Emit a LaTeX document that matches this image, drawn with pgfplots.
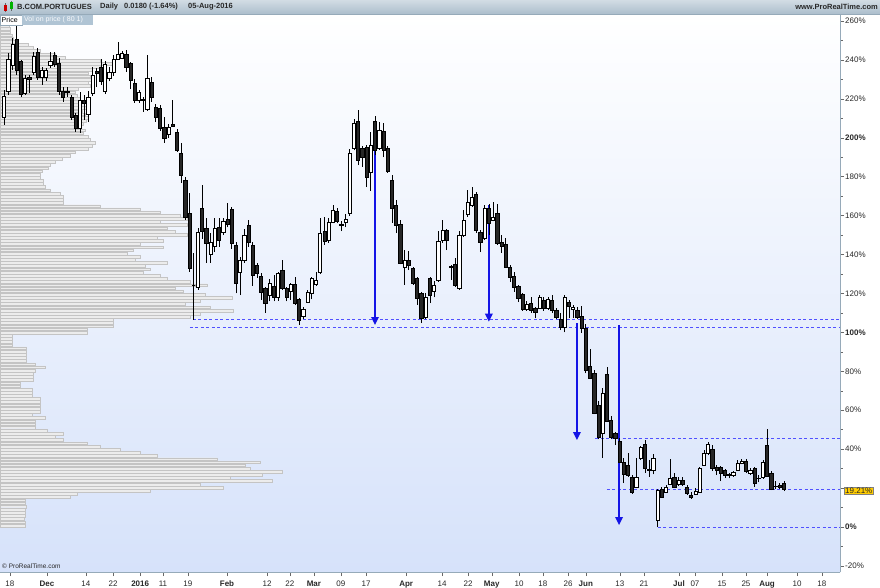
\documentclass[border=0pt]{standalone}
\usepackage{pgfplots}
\pgfplotsset{compat=1.18}
\usepackage{pgfplotstable}
\usepackage{fontspec}
\setmainfont{Liberation Sans}
\usetikzlibrary{arrows.meta}
\definecolor{hdrtop}{RGB}{210,220,228}
\definecolor{hdrbot}{RGB}{172,190,204}
\definecolor{bgbot}{RGB}{214,226,250}
\definecolor{dashc}{RGB}{80,80,255}
\definecolor{arr}{RGB}{20,20,230}
\definecolor{volfill}{RGB}{236,236,236}
\definecolor{voldraw}{RGB}{196,196,196}
\definecolor{axisc}{RGB}{150,170,185}
\definecolor{txt}{RGB}{40,40,40}
\definecolor{tagc}{RGB}{176,196,212}
\definecolor{yel}{RGB}{255,204,0}
\pgfdeclareplotmark{nothing}{}

\pgfplotstableread{
i O H L C
0 210.6 224.5 206.6 221.4
1 224.1 243.6 222.0 240.5
2 237.5 251.3 234.9 248.2
3 250.8 259.0 232.3 234.9
4 239.5 240.0 221.0 222.5
5 223.1 232.3 222.0 230.8
6 231.3 232.3 223.1 230.3
7 233.8 244.1 232.3 242.1
8 244.1 246.2 229.7 231.3
9 231.3 236.4 227.2 234.9
10 231.3 235.9 229.2 234.9
11 237.5 244.0 236.0 239.5
12 242.6 244.1 236.4 238.0
13 238.5 241.0 222.0 224.1
14 224.1 226.1 218.4 221.0
15 224.0 226.0 221.0 223.5
16 221.0 222.0 209.2 210.7
17 211.7 212.8 203.0 205.1
18 205.1 223.6 202.5 219.4
19 219.4 222.0 209.2 217.9
20 212.3 224.0 208.0 221.0
21 223.1 236.4 221.5 232.3
22 234.0 236.0 226.0 233.0
23 236.4 240.5 227.2 229.2
24 224.1 239.5 222.5 238.0
25 230.8 236.4 229.0 233.8
26 233.8 242.6 232.0 240.5
27 240.5 249.3 240.0 243.1
28 241.1 244.6 240.5 243.6
29 243.1 245.0 234.0 236.4
30 238.5 239.0 225.0 229.7
31 228.2 230.0 218.0 219.4
32 219.4 224.6 217.9 223.6
33 219.9 221.0 213.3 219.4
34 214.8 242.6 213.8 230.8
35 228.7 231.0 218.4 221.0
36 215.9 217.4 208.2 210.7
37 215.3 217.0 203.5 205.1
38 205.6 210.7 197.4 199.9
39 202.0 207.0 200.0 205.6
40 207.1 219.4 205.6 206.1
41 203.0 204.6 192.7 193.8
42 192.2 197.4 176.8 180.9
43 178.3 179.9 157.8 159.3
44 161.4 171.7 131.1 133.1
45 124.4 140.8 106.4 124.4
46 123.3 153.7 121.8 151.6
47 163.8 175.8 148.0 151.8
48 153.7 158.8 135.7 146.0
49 140.3 151.0 135.7 146.5
50 144.4 158.8 141.3 153.7
51 154.2 159.0 144.0 147.5
52 151.6 159.0 150.0 157.3
53 158.3 166.5 154.0 155.7
54 163.4 164.5 143.0 146.0
55 144.9 146.5 120.0 125.4
56 131.1 138.8 119.2 137.2
57 137.2 153.0 135.7 150.1
58 155.2 158.0 143.9 146.5
59 144.9 146.5 124.0 129.5
60 134.6 135.7 128.0 130.5
61 129.0 130.5 116.7 120.8
62 122.8 123.3 110.0 115.1
63 119.2 127.5 116.0 125.4
64 123.8 129.5 116.0 118.2
65 118.2 131.0 116.2 130.5
66 132.1 137.2 122.0 122.8
67 122.8 123.3 116.0 118.2
68 121.3 125.4 116.7 124.9
69 124.9 128.5 114.0 115.1
70 117.2 117.7 103.8 106.4
71 108.4 113.0 107.0 112.0
72 115.6 121.8 115.0 120.8
73 120.3 128.5 117.0 128.0
74 124.9 131.0 124.0 126.9
75 131.1 159.0 130.0 151.1
76 152.1 159.3 145.0 147.0
77 147.5 159.0 146.0 156.8
78 156.8 165.5 156.0 162.9
79 162.4 164.0 156.0 157.3
80 155.5 157.5 152.0 155.2
81 156.8 161.0 154.0 158.3
82 161.4 194.0 160.0 192.2
83 194.8 209.7 193.5 207.6
84 208.7 214.3 186.0 188.6
85 194.8 196.0 185.0 190.2
86 195.3 196.3 174.7 179.9
87 182.4 203.0 172.7 196.3
88 208.7 211.2 191.0 193.8
89 194.8 208.2 193.8 204.0
90 203.5 207.6 190.0 193.8
91 194.8 196.0 182.0 183.0
92 178.3 181.0 156.3 163.9
93 165.5 168.0 151.0 155.2
94 155.7 158.0 135.0 135.7
95 133.6 142.3 124.4 137.2
96 137.2 142.0 132.0 134.6
97 133.1 133.6 124.4 125.4
98 128.0 128.5 114.1 117.7
99 120.3 120.8 104.8 107.4
100 107.9 120.3 107.0 118.2
101 128.0 128.5 115.1 119.2
102 121.3 126.4 118.0 124.4
103 126.9 152.0 126.0 147.0
104 147.5 158.0 146.0 152.6
105 152.6 153.0 142.3 147.5
106 133.8 134.6 127.0 133.6
107 135.2 138.0 123.3 124.4
108 122.8 152.0 121.8 150.1
109 150.1 162.9 149.0 157.8
110 160.9 173.2 159.3 167.0
111 165.5 174.7 164.5 169.6
112 171.1 172.2 151.0 152.6
113 151.6 152.6 141.3 146.5
114 148.5 165.5 147.5 163.9
115 163.9 166.0 150.0 156.3
116 157.8 167.0 157.0 159.3
117 161.4 166.0 145.0 146.0
118 146.5 150.0 141.0 144.4
119 145.4 148.5 133.0 133.6
120 133.6 134.6 126.0 128.5
121 129.0 131.0 120.8 123.3
122 123.8 124.4 115.6 117.7
123 119.7 120.3 111.0 112.0
124 112.0 116.2 111.0 114.6
125 115.1 118.2 110.0 111.5
126 112.5 113.0 107.4 110.5
127 112.5 119.2 112.0 118.2
128 116.7 118.2 111.0 112.5
129 112.5 118.0 111.5 117.2
130 116.7 119.0 110.0 111.5
131 111.5 112.5 106.9 107.9
132 106.9 110.0 101.2 102.8
133 102.8 119.0 100.0 118.2
134 115.6 116.7 107.4 113.6
135 112.0 114.0 107.4 113.1
136 111.5 113.0 106.9 107.9
137 108.4 113.6 99.7 102.3
138 102.3 104.3 79.0 80.7
139 82.7 91.5 76.0 76.6
140 79.2 80.7 58.0 58.6
141 62.7 64.8 45.0 46.3
142 48.3 71.4 35.5 68.9
143 78.6 82.2 54.0 54.5
144 55.0 57.0 45.0 46.3
145 48.3 48.8 42.1 45.7
146 44.2 45.7 32.9 33.4
147 33.4 35.5 22.6 27.2
148 31.9 38.0 25.7 26.7
149 25.7 26.7 17.0 18.0
150 20.6 35.5 20.0 25.7
151 35.5 41.5 34.4 41.1
152 42.6 44.7 27.8 30.3
153 29.8 34.4 25.7 29.3
154 29.3 37.5 27.0 35.5
155 3.6 19.5 0.0 19.0
156 19.5 20.6 15.0 15.4
157 18.0 21.5 17.5 20.6
158 22.1 35.0 21.6 25.2
159 25.7 27.7 20.0 20.6
160 22.1 25.7 21.0 24.2
161 24.2 25.7 21.0 22.1
162 20.6 21.6 16.4 17.5
163 16.4 18.0 14.4 15.4
164 17.0 20.0 16.4 18.5
165 18.0 31.0 17.5 30.3
166 31.9 39.6 31.4 38.0
167 38.0 43.7 37.0 42.6
168 40.1 42.1 29.0 30.3
169 30.8 32.0 26.7 29.3
170 30.8 31.4 23.6 27.8
171 29.3 30.0 25.2 26.7
172 26.9 28.0 25.0 26.5
173 26.7 28.8 25.7 28.3
174 29.3 34.4 28.8 32.9
175 32.9 35.0 32.3 33.9
176 33.9 35.0 27.7 28.8
177 27.7 30.3 26.7 29.3
178 30.3 30.8 20.6 22.6
179 25.2 26.5 23.0 24.9
180 25.7 34.5 24.7 33.4
181 42.1 50.4 25.7 26.2
182 27.8 28.8 19.0 19.5
183 21.1 23.7 19.5 20.8
184 21.6 22.6 19.5 20.6
185 22.6 23.5 18.5 19.21
}\candles

\pgfplotstableread{
p w
0.8 25
2.4 25
4.1 24
5.7 25
7.3 25
8.9 25
10.6 26
12.2 25
13.8 25
15.4 70
17.1 77
18.7 150
20.3 223
21.9 200
23.6 272
25.2 230
26.8 262
28.4 282
30.1 250
31.7 245
33.3 260
34.9 217
36.6 157
38.2 140
39.8 120
41.4 100
43.1 87
44.7 63
46.3 55
47.9 63
49.6 47
51.2 35
52.8 35
54.4 35
56.1 45
57.7 32
59.3 40
60.9 40
62.6 40
64.2 40
65.8 40
67.4 32
69.1 32
70.7 32
72.3 20
73.9 20
75.6 33
77.2 33
78.8 33
80.4 35
82.1 45
83.7 35
85.3 26
86.9 26
88.6 26
90.2 26
91.8 26
93.4 12
95.1 12
96.7 12
98.3 12
99.9 87
101.6 87
103.2 113
104.8 113
106.4 113
108.1 190
109.7 200
111.3 233
112.9 210
114.6 185
116.2 200
117.8 232
119.4 205
121.1 183
122.7 175
124.3 207
125.9 190
127.6 167
129.2 160
130.8 143
132.4 150
134.1 145
135.7 167
137.3 135
138.9 140
140.6 127
142.2 133
143.8 163
145.4 140
147.1 163
148.7 157
150.3 187
151.9 175
153.6 167
155.2 187
156.8 160
158.4 187
160.1 180
161.7 160
163.3 140
164.9 100
166.6 63
168.2 63
169.8 63
171.4 60
173.1 50
174.7 45
176.3 43
177.9 43
179.6 40
181.2 40
182.8 42
184.4 48
186.1 50
187.7 55
189.3 62
190.9 70
192.6 75
194.2 88
195.8 92
197.4 95
199.1 90
200.7 88
202.3 83
203.9 85
205.6 80
207.2 83
208.8 86
210.4 88
212.1 85
213.7 82
215.3 86
216.9 84
218.6 85
220.2 80
221.8 77
223.4 75
225.1 78
226.7 90
228.3 88
229.9 92
231.6 90
233.2 88
234.8 92
236.4 100
238.1 115
239.7 100
241.3 65
242.9 55
244.6 40
246.2 33
247.8 28
249.4 15
251.1 13
252.7 12
254.3 10
255.9 10
257.6 9
259.2 9
}\profile

\begin{document}
\begin{tikzpicture}[x=1pt,y=1pt]
\useasboundingbox (0,0) rectangle (880,587);
\fill[white] (0,0) rectangle (880,587);
\shade[top color=white, bottom color=bgbot] (0,15) rectangle (840,572);

\begin{axis}[at={(0pt,15pt)}, anchor=south west, scale only axis,
  width=840pt, height=557pt,
  xmin=0, xmax=840, ymin=-23.12, ymax=263.1, hide axis]
\addplot[xbar, bar width=1.4, fill=volfill, draw=voldraw, line width=0.45pt]
  table[x=w,y=p]{\profile};
\end{axis}

\begin{axis}[at={(0pt,15pt)}, anchor=south west, scale only axis,
  width=840pt, height=557pt,
  xmin=-0.949, xmax=198.3, ymin=-23.12, ymax=263.1,
  axis x line*=bottom, axis y line*=right,
  axis line style={draw=axisc, line width=0.8pt},
  tick align=outside, major tick length=4pt, minor tick length=2.5pt,
  tick style={draw=txt!70, line width=0.5pt},
  ytick={-20,0,20,40,60,80,100,120,140,160,180,200,220,240,260},
  minor ytick={-10,10,30,50,70,90,110,130,150,170,190,210,230,250},
  yticklabels={-20\%,\textbf{0\%},{},40\%,60\%,80\%,\textbf{100\%},120\%,140\%,160\%,180\%,\textbf{200\%},220\%,240\%,260\%},
  yticklabel style={font=\fontsize{8}{9}\selectfont, text=txt, anchor=west, inner sep=0pt, xshift=1pt},
  xtick={1.4,10.2,19.4,25.9,32.3,37.7,43.6,52.9,62.4,67.8,73.5,79.9,85.9,95.4,103.9,110.1,115.7,122.2,127.8,133.8,138.0,146.1,151.8,160.1,163.9,170.3,176.0,181.0,188.1,194.0},
  xticklabels={18,\textbf{Dec},14,22,\textbf{2016},11,19,\textbf{Feb},12,22,\textbf{Mar},09,17,\textbf{Apr},14,22,\textbf{May},10,18,26,\textbf{Jun},13,21,\textbf{Jul},07,15,25,\textbf{Aug},10,18},
  xticklabel style={font=\fontsize{8}{9}\selectfont, text=txt, anchor=base, inner sep=0pt, yshift=-10pt},
]
\addplot[scatter, only marks, mark=nothing,
  visualization depends on={\thisrow{O}\as\vO},
  visualization depends on={\thisrow{H}\as\vH},
  visualization depends on={\thisrow{L}\as\vL},
  visualization depends on={\thisrow{C}\as\vC},
  scatter/@pre marker code/.code={%
    \pgfmathsetmacro\dH{\vH-\vO}%
    \pgfmathsetmacro\dL{\vL-\vO}%
    \pgfmathsetmacro\dC{\vC-\vO}%
    \draw[black, line width=0.6pt] (axis direction cs:0,\dL) -- (axis direction cs:0,\dH);%
    \ifdim\dC pt>0pt
      \draw[black, fill=white, line width=0.6pt] (axis direction cs:-0.38,0) rectangle (axis direction cs:0.38,\dC);%
    \else
      \draw[black, fill=black!85, line width=0.6pt] (axis direction cs:-0.38,0) rectangle (axis direction cs:0.38,\dC);%
    \fi
  },
  scatter/@post marker code/.code={},
] table[x=i,y=O]{\candles};

\addplot[dashc, line width=0.9pt, dash pattern=on 3pt off 2.5pt] coordinates {(44.8,106.4) (198.3,106.4)};
\addplot[dashc, line width=0.9pt, dash pattern=on 3pt off 2.5pt] coordinates {(44.1,102.8) (198.3,102.8)};
\addplot[dashc, line width=0.9pt, dash pattern=on 3pt off 2.5pt] coordinates {(140.2,45.7) (198.3,45.7)};
\addplot[dashc, line width=0.9pt, dash pattern=on 3pt off 2.5pt] coordinates {(143.0,19.21) (198.3,19.21)};
\addplot[dashc, line width=0.9pt, dash pattern=on 3pt off 2.5pt] coordinates {(155.1,0) (198.3,0)};

\addplot[arr, line width=1.4pt, -{Triangle[width=7.5pt,length=8pt]}] coordinates {(88,208.8) (88,103.8)};
\addplot[arr, line width=1.4pt, -{Triangle[width=7.5pt,length=8pt]}] coordinates {(115,165.5) (115,105.5)};
\addplot[arr, line width=1.4pt, -{Triangle[width=7.5pt,length=8pt]}] coordinates {(135.9,104.8) (135.9,44.7)};
\addplot[arr, line width=1.4pt, -{Triangle[width=7.5pt,length=8pt]}] coordinates {(145.9,103.8) (145.9,1.0)};
\end{axis}

% header bar
\shade[top color=hdrtop, bottom color=hdrbot] (0,573) rectangle (880,587);
\draw[axisc, line width=0.5pt] (0,573) -- (880,573);
\draw[black!60, line width=0.4pt] (5.5,574.5) -- (5.5,583.5);
\fill[red!80!black] (4,576) rectangle (7,582);
\draw[black!60, line width=0.4pt] (11.5,576) -- (11.5,586);
\fill[green!70!black] (10,578) rectangle (13,584.5);
\begin{scope}[every node/.style={inner sep=0pt, anchor=west, text=txt, font=\bfseries\fontsize{7.5}{9}\selectfont}]
\node at (17,580) {B.COM.PORTUGUES};
\node at (100,580) {Daily};
\node at (124,580) {0.0180 (-1.64\%)};
\node at (188,580) {05-Aug-2016};
\node[anchor=east] at (878,580) {www.ProRealTime.com};
\end{scope}

% tabs
\fill[white] (0,562) rectangle (22,572);
\draw[axisc, line width=0.4pt] (0,562) rectangle (22,572);
\fill[tagc] (22,562) rectangle (93,572);
\node[inner sep=0pt, anchor=west, font=\fontsize{7}{8}\selectfont, text=black] at (1.5,567) {Price};
\node[inner sep=0pt, anchor=west, font=\fontsize{7}{8}\selectfont, text=white!92!tagc] at (24,567) {Vol on price ( 80 1)};

% footer
\node[inner sep=0pt, anchor=west, font=\fontsize{6.5}{8}\selectfont, text=txt] at (2,21) {\textcopyright\ ProRealTime.com};

% last value tag
\node[fill=yel, draw=black!50, line width=0.4pt, inner sep=1pt, anchor=west, font=\fontsize{8}{9}\selectfont, text=txt] at (844,96.4) {19.21\%};
\end{tikzpicture}
\end{document}
